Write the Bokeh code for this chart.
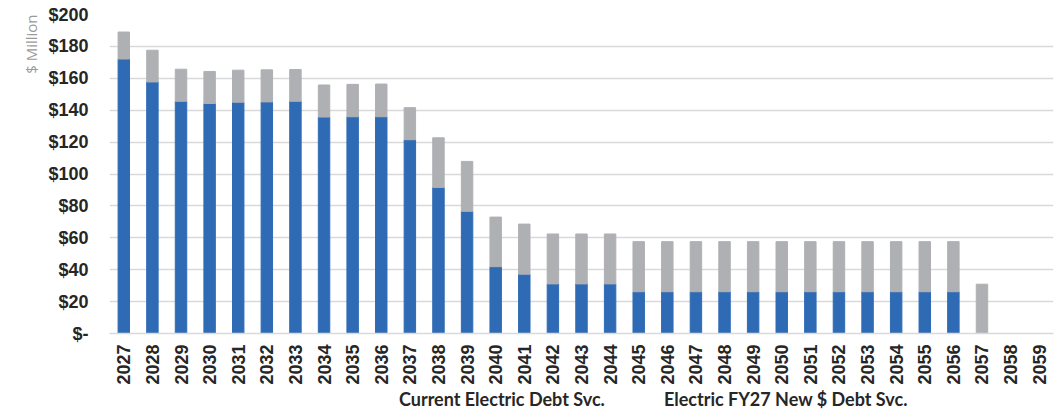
import math
from bokeh.plotting import figure
from bokeh.layouts import column
from bokeh.models import FactorRange, Range1d, FixedTicker, Legend, LegendItem, Title, ColumnDataSource
from bokeh.embed import file_html
from bokeh.resources import INLINE

years = [str(y) for y in range(2027, 2060)]
current_debt = [172.1, 157.7, 145.6, 144.2, 145.0, 145.2, 145.6, 135.7, 135.9, 135.9,
                121.5, 91.6, 76.6, 41.9, 37.2, 31.1, 31.1, 31.1,
                26.2, 26.2, 26.2, 26.2, 26.2, 26.2, 26.2, 26.2, 26.2, 26.2, 26.2, 26.2,
                0, 0, 0]
new_debt = [16.9, 19.9, 20.1, 20.1, 20.1, 20.1, 19.9, 20.1, 20.3, 20.5,
            20.1, 31.1, 31.3, 31.1, 31.4, 31.3, 31.3, 31.3,
            31.4, 31.4, 31.4, 31.4, 31.4, 31.4, 31.4, 31.4, 31.4, 31.4, 31.4, 31.4,
            30.9, 0, 0]
y_ticks = [0, 20, 40, 60, 80, 100, 120, 140, 160, 180, 200]
y_tick_labels = ["$-", "$20", "$40", "$60", "$80", "$100", "$120", "$140", "$160", "$180", "$200"]
series_names = ["Current Electric Debt Svc.", "Electric FY27 New $ Debt Svc."]
colors = ["#2F6BB5", "#AFB0B3"]

src = ColumnDataSource(dict(year=years, current=current_debt, new=new_debt))

p = figure(width=1055, height=387, x_range=FactorRange(*years), y_range=Range1d(0, 200),
           output_backend="svg", toolbar_location=None,
           min_border_left=109, min_border_right=2, min_border_top=14, min_border_bottom=0)
p.outline_line_color = None

rs = p.vbar_stack(["current", "new"], x="year", width=0.4, color=colors, source=src)

p.yaxis.ticker = FixedTicker(ticks=y_ticks)
p.yaxis.major_label_overrides = {t: l for t, l in zip(y_ticks, y_tick_labels)}
p.yaxis.axis_line_color = None
p.yaxis.major_tick_line_color = None
p.yaxis.minor_tick_line_color = None
p.yaxis.major_tick_out = 0
p.yaxis.major_tick_in = 0
p.yaxis.major_label_text_font = "Liberation Sans"
p.yaxis.major_label_text_font_style = "bold"
p.yaxis.major_label_text_font_size = "18px"
p.yaxis.major_label_text_color = "#262626"
p.yaxis.major_label_standoff = 21

p.xaxis.axis_line_color = "#D9D9D9"
p.xaxis.axis_line_width = 1.5
p.xaxis.major_tick_line_color = None
p.xaxis.minor_tick_line_color = None
p.xaxis.major_tick_out = 0
p.xaxis.major_tick_in = 0
p.xaxis.axis_label_standoff = 0
p.xaxis.major_label_orientation = math.pi / 2
p.xaxis.major_label_text_font = "Liberation Sans"
p.xaxis.major_label_text_font_style = "bold"
p.xaxis.major_label_text_font_size = "18px"
p.xaxis.major_label_text_color = "#262626"
p.xaxis.major_label_standoff = 11

p.xgrid.grid_line_color = None
p.ygrid.grid_line_color = "#D9D9D9"
p.ygrid.grid_line_width = 1.5

p.add_layout(Title(text="$ Million", align="right", text_font="Open Sans", text_font_size="15px",
                   text_font_style="normal", text_color="#9A9A9A", offset=0), "left")

# legend strip below the chart
p2 = figure(width=1055, height=24, x_range=(0, 1), y_range=(0, 1),
            output_backend="svg", toolbar_location=None,
            x_axis_location=None, y_axis_location=None, min_border=0)
p2.outline_line_color = None
p2.grid.visible = False
proxies = [p2.vbar(x=[], top=[], width=0.4, color=c) for c in colors]

legend = Legend(items=[LegendItem(label=series_names[i], renderers=[proxies[i]]) for i in range(2)],
                orientation="horizontal", location=(273, 1), margin=0, padding=1,
                spacing=42, label_standoff=7, glyph_width=10, glyph_height=10, label_height=16,
                label_text_font="Lato", label_text_font_style="bold", label_text_font_size="18px",
                label_text_color="#262626", border_line_color=None, background_fill_alpha=0)
p2.add_layout(legend, "center")

layout = column(p, p2, spacing=0)
open("out.html", "w").write(file_html(layout, INLINE))
